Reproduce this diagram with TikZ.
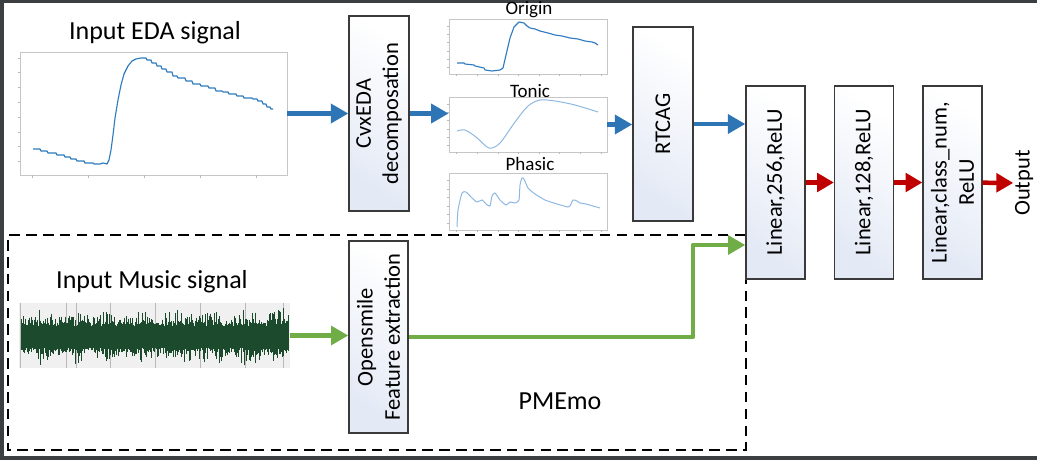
\documentclass[tikz,border=0pt]{standalone}
\usepackage{fontspec}
\setmainfont{Carlito}
\usetikzlibrary{arrows.meta,calc}

\definecolor{arrblue}{HTML}{2E75B6}
\definecolor{arrred}{HTML}{C00000}
\definecolor{arrgreen}{HTML}{70AD47}
\definecolor{sigblue}{HTML}{2F7BBF}
\definecolor{lightsig}{HTML}{8DB8E2}
\definecolor{wavegreen}{HTML}{1C4A2C}
\definecolor{boxedge}{HTML}{3A3A3A}
\definecolor{boxshade}{HTML}{E3E9F5}
\definecolor{shotframe}{HTML}{3C3F41}

\newcommand\lblfont{\fontsize{18.5}{22}\selectfont}
\newcommand\boxfont{\fontsize{16}{19.5}\selectfont}
\newcommand\plotfont{\fontsize{13.5}{16}\selectfont}

\tikzset{
 blk/.style={draw=boxedge, line width=0.9pt, inner sep=0pt, minimum width=1.5cm,
   top color=white, bottom color=boxshade, shading angle=-35},
 blktext/.style={rotate=90, align=center, font=\boxfont},
 plotframe/.style={draw=gray!45, line width=0.5pt, inner sep=0pt, fill=white},
 bluearr/.style={arrblue, line width=3.5pt, -{Triangle[length=4.4mm,width=4.7mm]}},
 redarr/.style={arrred, line width=3.2pt, -{Triangle[length=4.2mm,width=4.6mm]}},
 greenarr/.style={arrgreen, line width=3.3pt, line join=round, -{Triangle[length=4.3mm,width=4.6mm]}},
 dashbox/.style={black, line width=1.9pt, dash pattern=on 7.5pt off 4.5pt},
 tick/.style={gray!55, line width=0.4pt}
}

\begin{document}
\begin{tikzpicture}[x=0.025cm,y=-0.025cm]
 \useasboundingbox (0,0) rectangle (1037,460);
 \fill[shotframe] (0,0) rectangle (1037,460);
 \fill[white] (4,2.5) rectangle (1037,455.5);
 %
 % input EDA signal
 \node[font=\lblfont] (edalbl) at (155,33) {Input EDA signal};
 \node[plotframe, minimum width=6.675cm, minimum height=3.075cm] (eda) at (153.5,113.5) {};
 \foreach \t in {58,72,87,102,117,132,146,161} \draw[tick] (20,\t) -- ++(-2,0);
 \foreach \t in {32,88,144,200,256} \draw[tick] (\t,175) -- ++(0,3);
 \draw[sigblue, line width=0.8pt, line join=round] plot coordinates {(33,149) (40,149) (41,151) (47,151) (48,153) (56,153) (57,155) (64,155) (65,157) (70,157) (71,159) (76,159) (77,161) (84,161) (85,163) (93,163) (94,164) (100,164) (103,163) (107,164) (109,160) (111,150) (113,135) (115,118) (118,100) (121,85) (124,74) (128,66) (132,61) (136,59) (141,58) (146,58) (147,60) (151,60) (152,63) (156,63) (157,66) (161,66) (162,69) (166,69) (167,72) (172,72) (173,76) (177,76) (178,78) (185,78) (186,81) (192,81) (193,84) (200,84) (201,86) (208,86) (209,88) (215,88) (216,91) (222,91) (223,92) (228,92) (229,94) (236,94) (237,96) (243,96) (244,98) (252,98) (253,99) (257,99) (258,101) (262,101) (263,104) (266,104) (267,107) (270,107) (271,109) (273,109)};
 %
 % decomposition
 \node[blk, minimum height=4.875cm, label={[blktext]center:CvxEDA\\decomposation}] (cvx) at (379,113.5) {};
 %
 \node[plotframe, minimum width=3.95cm, minimum height=1.375cm] (orig) at (528,46.5) {};
 \node[font=\plotfont] (origlbl) at (529,10) {Origin};
 \node[plotframe, minimum width=3.95cm, minimum height=1.375cm] (tonic) at (528,124.5) {};
 \node[font=\plotfont] (toniclbl) at (530,91) {Tonic};
 \node[plotframe, minimum width=3.95cm, minimum height=1.425cm] (phasic) at (528,201.5) {};
 \node[font=\plotfont] (phasiclbl) at (530,164) {Phasic};
 \foreach \p in {orig,tonic,phasic}{
  \foreach \t in {0.12,0.27,0.42,0.57,0.72,0.87} \draw[tick] ($(\p.south west)!\t!(\p.north west)$) -- ++(-2,0);
  \foreach \t in {0.05,0.18,0.31,0.44,0.57,0.70,0.83,0.96} \draw[tick] ($(\p.south west)!\t!(\p.south east)$) -- ++(0,2);
 }
 \draw[sigblue, line width=0.8pt, line join=round] plot coordinates {(457,63) (464,63) (465,64) (474,65) (475,66) (484,68) (485,70) (492,71) (500,70) (503,68) (506,55) (510,38) (514,27) (519,22) (524,23) (527,26) (530,28) (535,29) (540,31) (548,33) (555,35) (562,36) (570,38) (578,39) (585,41) (592,42) (595,43) (598,45)};
 \draw[lightsig, line width=0.7pt] plot[smooth] coordinates {(457,131) (465,130) (476,137) (489,148) (500,143) (515,122) (528,106) (540,100) (555,101) (575,105) (598,112)};
 \draw[lightsig, line width=0.7pt] plot[smooth, tension=0.35] coordinates {(457,227) (458,210) (462,193) (466,192) (472,198) (477,202) (482,200) (486,204) (490,206) (492,196) (495,193) (500,200) (506,205) (510,202) (515,203) (519,200) (520,185) (522,178) (524,179) (528,188) (535,194) (545,200) (557,204) (568,207) (570,206) (573,200) (577,201) (580,203) (586,204) (600,208)};
 %
 \node[blk, minimum height=4.85cm, label={[blktext]center:RTCAG}] (rtcag) at (663,124) {};
 %
 % classifier
 \node[blk, minimum width=1.475cm, minimum height=4.825cm, label={[blktext]center:Linear,256,ReLU}] (lin1) at (775.5,182.5) {};
 \node[blk, minimum width=1.475cm, minimum height=4.825cm, label={[blktext]center:Linear,128,ReLU}] (lin2) at (864,182.5) {};
 \node[blk, minimum width=1.475cm, minimum height=4.825cm, label={[blktext]center:Linear,class\_num,\\ReLU}] (lin3) at (952.5,182.5) {};
 \node[rotate=90, font=\boxfont, inner sep=1pt] (out) at (1024,183) {Output};
 %
 % music branch
 \node[font=\lblfont] (muslbl) at (152,282) {Input Music signal};
 \node[inner sep=0pt, minimum width=6.775cm, minimum height=1.625cm, fill=gray!12] (music) at (154.5,335.5) {};
 \foreach \g in {20,66,76,110,155,200,245,283} \draw[gray!55, line width=0.5pt] (\g,303) -- (\g,368);
 \pgfmathsetseed{11}
 \foreach \i in {0,...,445}{
  \pgfmathsetmacro\xx{21+0.6*\i}
  \pgfmathsetmacro\env{0.55+0.45*abs(sin(\i*3.1))}
  \pgfmathsetmacro\up{11+20*\env*rnd*rnd}
  \pgfmathsetmacro\dn{11+18*\env*rnd*rnd}
  \draw[wavegreen, line width=0.65pt] (\xx,337-\up) -- (\xx,337+\dn);
 }
 \node[blk, minimum width=1.475cm, minimum height=4.8cm, label={[blktext]center:Opensmile\\Feature extraction}] (osm) at (378.5,337) {};
 \node[font=\lblfont] (pmemo) at (560,401) {PMEmo};
 %
 \coordinate (gturn) at (693,245);
 \coordinate (dtl) at (8,235);
 \coordinate (dbr) at (746,450);
 \draw[dashbox] (dtl -| lin1.west) -- (dtl) |- (dbr) -- (dbr |- lin1.south);
 %
 \draw[bluearr] (eda.east) -- (cvx.west);
 \draw[bluearr] (cvx.east) -- (cvx.east -| tonic.west);
 \draw[bluearr] (tonic.east) -- (tonic.east -| rtcag.west);
 \draw[bluearr] (rtcag.east) -- (rtcag.east -| lin1.west);
 \draw[redarr] (lin1) -- (lin2);
 \draw[redarr] (lin2) -- (lin3);
 \draw[redarr] (lin3) -- (out);
 \draw[greenarr] (music.east) -- (music.east -| osm.west);
 \draw[greenarr] (osm.east) -| (gturn) -- (gturn -| lin1.west);
\end{tikzpicture}
\end{document}
